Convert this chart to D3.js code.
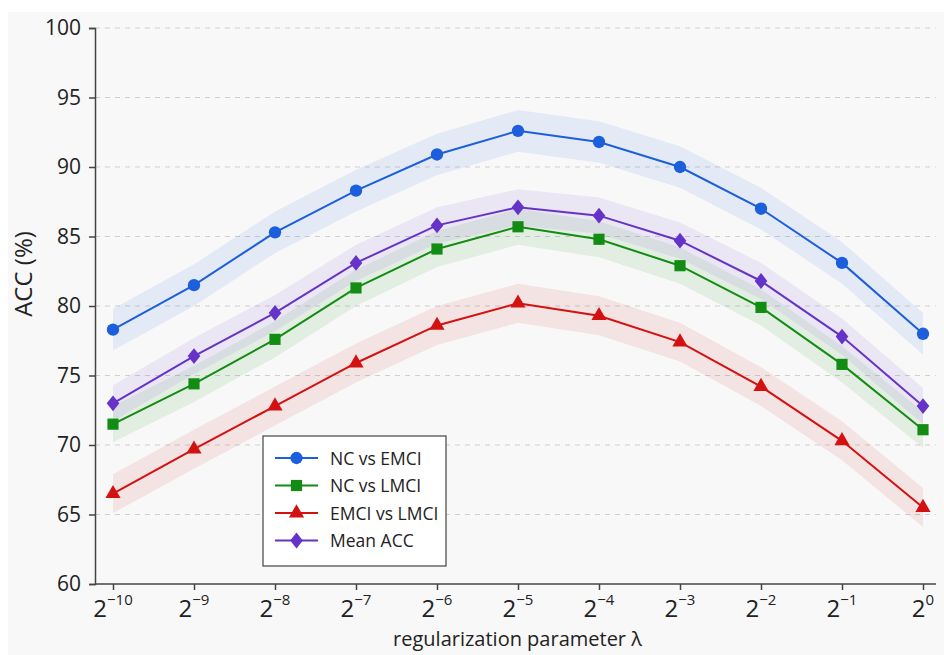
<!DOCTYPE html>
<head>
<meta charset="utf-8">
<script src="https://d3js.org/d3.v7.min.js"></script>
</head>
<body style="margin:0;background:#fff">
<style>
  * { font-family: "Open Sans", sans-serif; }
</style>
<div id="viz"></div>
<script>

// exponents of lambda (2^k)
var exponents = [-10, -9, -8, -7, -6, -5, -4, -3, -2, -1, 0];

var ncEmci   = [78.3, 81.5, 85.3, 88.3, 90.9, 92.6, 91.8, 90.0, 87.0, 83.1, 78.0];
var ncLmci   = [71.5, 74.4, 77.6, 81.3, 84.1, 85.7, 84.8, 82.9, 79.9, 75.8, 71.1];
var emciLmci = [66.5, 69.7, 72.8, 75.9, 78.6, 80.2, 79.3, 77.4, 74.2, 70.3, 65.5];
var meanAcc  = [73.0, 76.4, 79.5, 83.1, 85.8, 87.1, 86.5, 84.7, 81.8, 77.8, 72.8];

// half width of shaded band (in %)
var bandWidth = [1.5, 1.3, 1.4, 1.3];

var seriesNames = ["NC vs EMCI", "NC vs LMCI", "EMCI vs LMCI", "Mean ACC"];
var yTicks = [60, 65, 70, 75, 80, 85, 90, 95, 100];

var colors = ["#1c5fdc", "#138c13", "#d41111", "#6633c8"];

// a diamond a bit wider than d3's own
var wideDiamond = {
  draw: function(ctx, size) {
    var h = Math.sqrt(size / 1.6), w = h * 0.8;
    ctx.moveTo(0, -h);
    ctx.lineTo(w, 0);
    ctx.lineTo(0, h);
    ctx.lineTo(-w, 0);
    ctx.closePath();
  }
};
var shapes = [d3.symbolCircle, d3.symbolSquare, d3.symbolTriangle, wideDiamond];
var sizes = [120, 125, 100, 100];

var series = [ncEmci, ncLmci, emciLmci, meanAcc];

var W = 944, H = 655;
var margin = {top: 28, right: 4, bottom: 71, left: 95},
    width = W - margin.left - margin.right,
    height = H - margin.top - margin.bottom;

var root = d3.select("#viz").append("svg")
    .attr("width", W)
    .attr("height", H);

root.append("rect")
    .attr("x", 8).attr("y", 12)
    .attr("width", W - 8).attr("height", H - 12)
    .attr("fill", "#f8f8f8");

var svg = root.append("g")
    .attr("transform", "translate(" + margin.left + "," + margin.top + ")");

var x = d3.scalePoint()
    .domain(exponents)
    .range([18, 828]);

var y = d3.scaleLinear()
    .domain([60, 100])
    .range([height, 0]);

// grid lines
svg.append("g")
  .selectAll("line")
  .data(yTicks.filter(function(d) { return d > 60; }))
  .join("line")
    .attr("x1", 0)
    .attr("x2", width - 4)
    .attr("y1", function(d) { return y(d); })
    .attr("y2", function(d) { return y(d); })
    .attr("stroke", "#cfcfcf")
    .attr("stroke-width", 1)
    .attr("stroke-dasharray", "5,5");

// bands
var area = d3.area()
    .x(function(d) { return x(d.k); })
    .y0(function(d) { return y(d.v - d.b); })
    .y1(function(d) { return y(d.v + d.b); });

var line = d3.line()
    .x(function(d) { return x(d.k); })
    .y(function(d) { return y(d.v); });

series.forEach(function(vals, i) {
  var pts = vals.map(function(v, j) { return {k: exponents[j], v: v, b: bandWidth[i]}; });
  svg.append("path")
    .datum(pts)
    .attr("fill", colors[i])
    .attr("fill-opacity", 0.09)
    .attr("d", area);
});

series.forEach(function(vals, i) {
  var pts = vals.map(function(v, j) { return {k: exponents[j], v: v}; });
  svg.append("path")
    .datum(pts)
    .attr("fill", "none")
    .attr("stroke", colors[i])
    .attr("stroke-width", 2)
    .attr("d", line);
  svg.append("g")
    .selectAll("path")
    .data(pts)
    .join("path")
      .attr("transform", function(d) { return "translate(" + x(d.k) + "," + y(d.v) + ")"; })
      .attr("d", d3.symbol().type(shapes[i]).size(sizes[i]))
      .attr("fill", colors[i]);
});

// axes
var yAxis = svg.append("g")
    .call(d3.axisLeft(y).tickValues(yTicks).tickSize(6).tickPadding(8));
yAxis.selectAll("text").style("font-size", "21px").attr("fill", "#222");

var xAxis = svg.append("g")
    .attr("transform", "translate(0," + height + ")")
    .call(d3.axisBottom(x).tickSize(6).tickSizeOuter(0).tickFormat(""));
xAxis.select(".domain").attr("d", "M0,0H" + (width - 4));

svg.selectAll(".domain").attr("stroke", "#444").attr("stroke-width", 1.5);
svg.selectAll(".tick line").attr("stroke", "#444").attr("stroke-width", 1.5);

// x tick labels 2^k
var xl = svg.append("g")
  .selectAll("text")
  .data(exponents)
  .join("text")
    .attr("x", function(d) { return x(d); })
    .attr("y", height + 33)
    .attr("text-anchor", "middle")
    .attr("fill", "#222")
    .style("font-size", "24px");
xl.append("tspan").text("2");
xl.append("tspan")
    .attr("dy", -12)
    .style("font-size", "15px")
    .text(function(d) { return d < 0 ? "\u2212" + (-d) : d; });

// axis titles
svg.append("text")
    .attr("x", width / 2)
    .attr("y", height + 62)
    .attr("text-anchor", "middle")
    .attr("fill", "#222")
    .style("font-size", "20px")
    .text("regularization parameter \u03bb");

svg.append("text")
    .attr("transform", "rotate(-90)")
    .attr("x", -246)
    .attr("y", -63)
    .attr("text-anchor", "middle")
    .attr("fill", "#222")
    .style("font-size", "24px")
    .text("ACC (%)");

// legend
var lg = svg.append("g").attr("transform", "translate(168,408)");
lg.append("rect")
    .attr("width", 183)
    .attr("height", 130)
    .attr("fill", "#fff")
    .attr("stroke", "#444")
    .attr("stroke-width", 1.2);
seriesNames.forEach(function(name, i) {
  var row = lg.append("g").attr("transform", "translate(0," + (22 + i * 27.5) + ")");
  row.append("line")
    .attr("x1", 12).attr("x2", 55)
    .attr("stroke", colors[i]).attr("stroke-width", 2);
  row.append("path")
    .attr("transform", "translate(33.5,0)")
    .attr("d", d3.symbol().type(shapes[i]).size(sizes[i]))
    .attr("fill", colors[i]);
  row.append("text")
    .attr("x", 67)
    .attr("y", 6.5)
    .attr("fill", "#222")
    .style("font-size", "17.5px")
    .text(name);
});

</script>
</body>
